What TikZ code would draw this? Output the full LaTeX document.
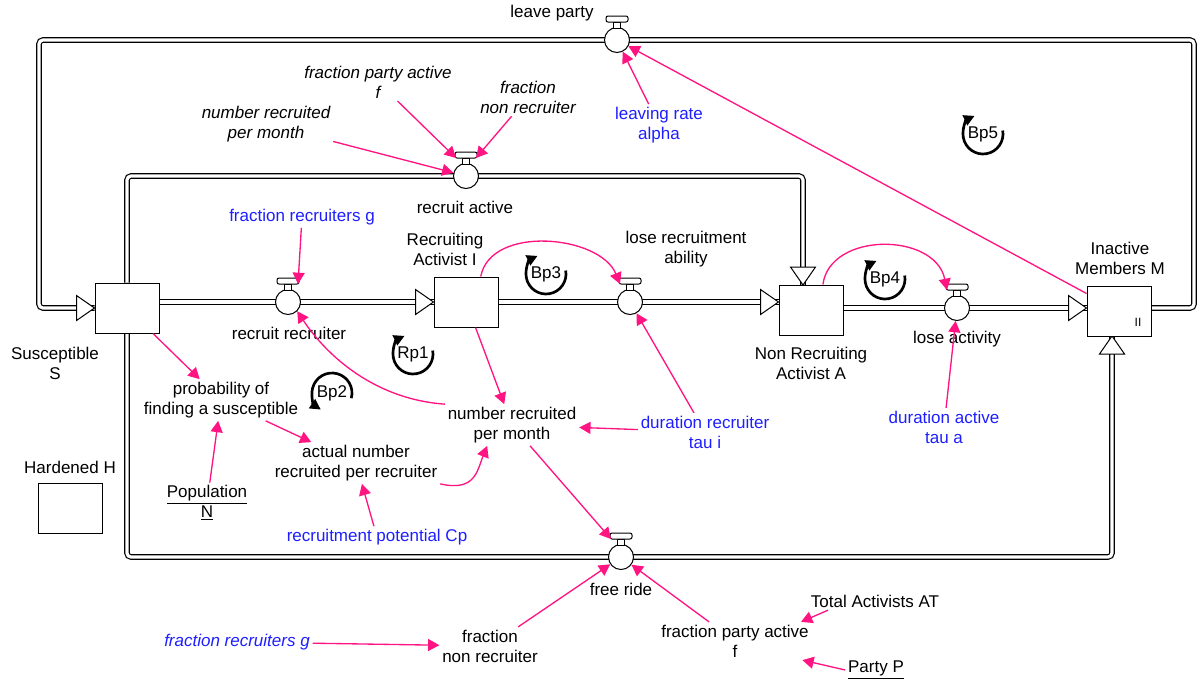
\documentclass[tikz,border=0pt]{standalone}
\usepackage{fontspec}
\setmainfont{Liberation Sans}
\usetikzlibrary{arrows.meta}
\definecolor{linkpink}{RGB}{255,20,130}
\definecolor{auxblue}{RGB}{30,30,255}

\begin{document}
\begin{tikzpicture}[
    x=0.75pt, y=-0.75pt,
    every node/.style={font=\fontsize{12.75}{15}\selectfont},
    lbl/.style={align=center, inner sep=2pt},
    aux/.style={lbl, text=auxblue},
    ghost/.style={lbl, font=\fontsize{12.75}{15}\selectfont\itshape},
    stock/.style={
        rectangle,
        draw,
        fill=white,
        line width=0.75pt,
        minimum width=48pt,
        minimum height=37.5pt,
        inner sep=0pt
    },
    valve/.style={circle, draw, fill=white, line width=0.75pt, minimum size=18.75pt, inner sep=0pt},
    pipe/.style={double, double distance=2.4pt, line width=0.9pt, rounded corners=3pt},
    link/.style={color=linkpink, line width=1pt, -{Triangle[length=8.5pt,width=9pt]}},
    loopsign/.style={line width=2pt, -{Triangle[length=8pt,width=8pt]}},
    tap/.pic={
        \draw[fill=white, line width=0.75pt] (-3.5,-12) rectangle (3.5,-18);
        \draw[fill=white, line width=0.75pt, rounded corners=1.5pt] (-11,-18) rectangle (11,-24);
        \coordinate (-tl) at (-10,-18);
        \coordinate (-tr) at (10,-18);
    },
    flowhead/.pic={
        \draw[fill=white, line width=0.75pt] (0,0) -- (-18,-12.5) -- (-18,12.5) -- cycle;
    }
]
\useasboundingbox (0,0) rectangle (1198,683);

% ---------- Stocks ----------
\node[stock] (S) at (127,308) {};
\node[stock] (I) at (466,302) {};
\node[stock] (A) at (811,310) {};
\node[stock] (M) at (1119,311) {};
\node[stock] (H) at (70,508) {};

% ---------- Valve positions ----------
\coordinate (lpc) at (617,40);
\coordinate (rac) at (466,176);
\coordinate (rrc) at (288,302);
\coordinate (lrac) at (630,302);
\coordinate (lac) at (957,308);
\coordinate (frc) at (621,557);

\coordinate (ne) at (1194,40);
\coordinate (nw) at (39,40);
\coordinate (ain) at (803,285);
\coordinate (min) at (1112,336);

% ---------- Pipes ----------
\draw[pipe] (S.east |- rrc) -- (I.west);
\draw[pipe] (I.east) -- (A.west |- lrac);
\draw[pipe] (A.east |- lac) -- (M.west |- lac);
\draw[pipe] (M.east |- lac) -| (ne) -- (nw) |- (S.west);
\draw[pipe] (S.north) |- (rac) -| (ain);
\draw[pipe] (S.south) |- (frc) -| (min);

\pic at (I.west) {flowhead};
\pic at (A.west |- lrac) {flowhead};
\pic at (M.west |- lac) {flowhead};
\pic at (S.west) {flowhead};
\pic[rotate=-90] at (ain) {flowhead};
\pic[rotate=90] at (min) {flowhead};

% redraw stocks over the pipe ends
\node[stock] at (S) {};
\node[stock] at (I) {};
\node[stock] at (A) {};
\node[stock] at (M) {};
\node[font=\fontsize{9}{10}\selectfont, inner sep=1pt] (mii) at (1138,322) {II};

% ---------- Valves ----------
\node[valve] (lp) at (lpc) {};
\node[valve] (ra) at (rac) {};
\node[valve] (rr) at (rrc) {};
\node[valve] (lra) at (lrac) {};
\node[valve] (la) at (lac) {};
\node[valve] (fr) at (frc) {};
\pic (lpt) at (lp) {tap};
\pic (rat) at (ra) {tap};
\pic (rrt) at (rr) {tap};
\pic (lrat) at (lra) {tap};
\pic (lat) at (la) {tap};
\pic (frt) at (fr) {tap};

% ---------- Labels ----------
\node[lbl] (lpL) at (552,13) {leave party};
\node[lbl] (raL) at (465,207) {recruit active};
\node[lbl] (rrL) at (289,333) {recruit recruiter};
\node[lbl] (lraL) at (686,249) {lose recruitment\\ability};
\node[lbl] (laL) at (957,339) {lose activity};
\node[lbl] (frL) at (621,589) {free ride};

\node[lbl] (sL) at (55,363) {Susceptible\\S};
\node[lbl] (iL) at (445,249) {Recruiting\\Activist I};
\node[lbl] (aL) at (811,363) {Non Recruiting\\Activist A};
\node[lbl] (mL) at (1120,258) {Inactive\\Members M};
\node[lbl] (hL) at (70,467) {Hardened H};

\node[ghost] (fpaT) at (378,82) {fraction party active\\f};
\node[ghost] (fnrT) at (528,97) {fraction\\non recruiter};
\node[ghost] (nrpmT) at (266,124) {number recruited\\per month};
\node[aux] (lrA) at (659,125) {leaving rate\\alpha};
\node[aux] (frgT) at (302,217) {fraction recruiters g};

\node[lbl] (pfs) at (221,400) {probability of\\finding a susceptible};
\node[lbl] (anr) at (356,463) {actual number\\recruited per recruiter};
\node[lbl] (nrpm) at (512,425) {number recruited\\per month};
\node[aux] (dri) at (705,432) {duration recruiter\\tau i};
\node[aux] (dat) at (944,427) {duration active\\tau a};
\node[lbl] (popN) at (207,503) {\underline{Population}\\\underline{N}};
\node[aux] (rpc) at (377,537) {recruitment potential Cp};

\node[aux, font=\fontsize{12.75}{15}\selectfont\itshape] (frgB) at (237,642) {fraction recruiters g};
\node[lbl] (fnrB) at (490,646) {fraction\\non recruiter};
\node[lbl] (fpaB) at (735,641) {fraction party active\\f};
\node[lbl] (tat) at (875,601) {Total Activists AT};
\node[lbl] (partyP) at (876,670) {\underline{Party P}};

% ---------- Loop markers ----------
\node[lbl] (bp5) at (983,134) {Bp5};
\node[lbl] (bp3) at (546,274) {Bp3};
\node[lbl] (bp4) at (885,279) {Bp4};
\node[lbl] (rp1) at (413,354) {Rp1};
\node[lbl] (bp2) at (332,393) {Bp2};
\draw[loopsign] (bp5) ++(-10:20) arc[start angle=-10, end angle=245, radius=20];
\draw[loopsign] (bp3) ++(-10:20) arc[start angle=-10, end angle=245, radius=20];
\draw[loopsign] (bp4) ++(-10:20) arc[start angle=-10, end angle=245, radius=20];
\draw[loopsign] (rp1) ++(-10:20) arc[start angle=-10, end angle=245, radius=20];
\draw[loopsign] (bp2) ++(15:20) arc[start angle=15, end angle=-236, radius=20];

% ---------- Links ----------
\draw[link] (nrpmT) -- (ra);
\draw[link] (fpaT) -- (rat-tl);
\draw[link] (fnrT) -- (rat-tr);
\draw[link] (lrA) -- (lp);
\draw[link] (M) -- (lp);
\draw[link] (frgT) -- (rrt-tr);
\draw[link] (nrpm.north west) .. controls +(-70,-5) and +(30,45) .. (rr.-45);
\draw[link] (I) -- (nrpm);
\draw[link] (dri) -- (nrpm);
\draw[link] (dri) -- (lra);
\draw[link] (I.60) .. controls +(10,-52) and +(-20,-49) .. (lrat-tl);
\draw[link] (A.65) .. controls +(7,-53) and +(-12,-58) .. (lat-tl);
\draw[link] (dat) -- (la);
\draw[link] (S) -- (pfs);
\draw[link] (popN) -- (pfs);
\draw[link] (pfs) -- (anr);
\draw[link] (rpc) -- (anr);
\draw[link] (anr.south east) .. controls +(35,8) and +(-10,25) .. (nrpm.-140);
\draw[link] (nrpm) -- (frt-tl);
\draw[link] (fnrB) -- (fr);
\draw[link] (fpaB) -- (fr);
\draw[link] (frgB) -- (fnrB);
\draw[link] ([xshift=15pt]tat.south west) -- ([xshift=-8pt]fpaB.north east);
\draw[link] (partyP.west) -- ([xshift=-7pt]fpaB.south east);

\end{tikzpicture}
\end{document}
